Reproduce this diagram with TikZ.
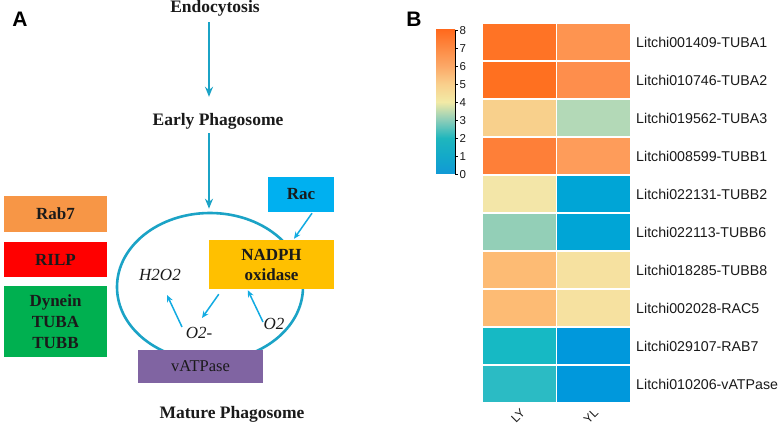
\documentclass[tikz,border=0pt]{standalone}
\usepackage{fontspec}
\setmainfont{Liberation Serif}
\setsansfont{Liberation Sans}
\usetikzlibrary{arrows.meta,shapes.geometric}
\definecolor{flowc}{HTML}{1BA3C6}
\definecolor{smallc}{HTML}{12ABE2}
\definecolor{rabc}{HTML}{F79646}
\definecolor{rilpc}{HTML}{FF0000}
\definecolor{dync}{HTML}{00B050}
\definecolor{racc}{HTML}{00B0F0}
\definecolor{nadc}{HTML}{FFC000}
\definecolor{vatc}{HTML}{8064A2}
\definecolor{txtc}{HTML}{1A1A1A}
% heatmap colours
\definecolor{h1a}{HTML}{FF7325}\definecolor{h1b}{HTML}{FE9450}
\definecolor{h2a}{HTML}{FF7020}\definecolor{h2b}{HTML}{FE8E4C}
\definecolor{h3a}{HTML}{F8D08C}\definecolor{h3b}{HTML}{B3D9B7}
\definecolor{h4a}{HTML}{FE7F38}\definecolor{h4b}{HTML}{FE9C5A}
\definecolor{h5a}{HTML}{F3E6A8}\definecolor{h5b}{HTML}{00A5D6}
\definecolor{h6a}{HTML}{93CFB7}\definecolor{h6b}{HTML}{00A5D6}
\definecolor{h7a}{HTML}{FDBB74}\definecolor{h7b}{HTML}{F6E1A0}
\definecolor{h8a}{HTML}{FDBB74}\definecolor{h8b}{HTML}{F6E1A0}
\definecolor{h9a}{HTML}{16B9C4}\definecolor{h9b}{HTML}{0098DC}
\definecolor{h10a}{HTML}{2BBBC4}\definecolor{h10b}{HTML}{0098DC}
% colour bar
\definecolor{cb0}{HTML}{1199D6}
\definecolor{cb1}{HTML}{13A9C9}
\definecolor{cb2}{HTML}{1FB6BD}
\definecolor{cb3}{HTML}{8CCDB9}
\definecolor{cb4}{HTML}{F2EAA6}
\definecolor{cb5}{HTML}{F9CF8C}
\definecolor{cb6}{HTML}{FCA867}
\definecolor{cb7}{HTML}{FD8A43}
\definecolor{cb8}{HTML}{FF6A1E}
\pgfdeclareverticalshading{cbar}{100bp}{color(0bp)=(cb0); color(25bp)=(cb0); color(31.25bp)=(cb1); color(37.5bp)=(cb2); color(43.75bp)=(cb3); color(50bp)=(cb4); color(56.25bp)=(cb5); color(62.5bp)=(cb6); color(68.75bp)=(cb7); color(75bp)=(cb8); color(100bp)=(cb8)}
\tikzset{
  title/.style={font=\fontsize{17.5}{19}\selectfont\bfseries, text=txtc, inner sep=0pt},
  panel/.style={font=\sffamily\bfseries\fontsize{21}{23}\selectfont, inner sep=0pt},
  box/.style={rectangle, inner sep=0pt, align=center, text=txtc,
    font=\fontsize{17}{19}\selectfont\bfseries},
  species/.style={font=\fontsize{17}{19}\selectfont\itshape, text=txtc, inner sep=0pt},
  flow/.style={draw=flowc, line width=2.6pt, -{Stealth[length=10pt,width=8pt]}},
  small/.style={draw=smallc, line width=1.5pt, -{Stealth[length=7pt,width=6pt]}},
  cell/.style={rectangle, draw=white, line width=1.3pt, minimum width=74.5pt, minimum height=38pt, inner sep=0pt},
  glab/.style={font=\sffamily\fontsize{14.2}{16}\selectfont, anchor=west, inner sep=0pt, text=txtc},
  tick/.style={font=\sffamily\fontsize{11.5}{13}\selectfont, anchor=west, inner sep=0pt, text=txtc},
  collab/.style={font=\sffamily\fontsize{12}{14}\selectfont, rotate=45, inner sep=0pt, text=txtc},
}
\begin{document}
\begin{tikzpicture}[x=1pt,y=-1pt]
\useasboundingbox[fill=white] (0,0) rectangle (782,427);
% ---------- Panel A ----------
\node[panel] (A) at (20,19) {A};
\node[title] (endo) at (215,8) {Endocytosis};
\node[title] (early) at (218,121) {Early Phagosome};
\node[draw=flowc, line width=2.6pt, ellipse, minimum width=186pt, minimum height=148pt, inner sep=0pt] (phago) at (210,287) {};
\draw[flow] ([xshift=-6pt,yshift=-6pt]endo.south) -- ([xshift=-9pt,yshift=16pt]early.north);
\draw[flow] ([xshift=-9pt,yshift=-4pt]early.south) -- ([xshift=-1pt,yshift=3pt]phago.north);
% left legend boxes
\node[box, fill=rabc, minimum width=103pt, minimum height=36pt] (rab) at (55.5,214) {Rab7};
\node[box, fill=rilpc, minimum width=103pt, minimum height=35pt] (rilp) at (55.5,259.5) {RILP};
\node[box, fill=dync, minimum width=103pt, minimum height=71pt, font=\fontsize{17}{21}\selectfont\bfseries] (dyn) at (55.5,321.5) {Dynein\\TUBA\\TUBB};
% phagosome components
\node[box, fill=racc, minimum width=66pt, minimum height=35pt] (rac) at (301,194.5) {Rac};
\node[box, fill=nadc, minimum width=125pt, minimum height=49pt, font=\fontsize{17}{20}\selectfont\bfseries] (nad) at (271.5,264.5) {NADPH\\oxidase};
\node[box, fill=vatc, minimum width=125pt, minimum height=33pt, font=\fontsize{16.5}{19}\selectfont] (vat) at (200.5,366.5) {vATPase};
\node[species] (h2o2) at (160,275) {H2O2};
\node[species] (o2m) at (199,333) {O2-};
\node[species] (o2) at (274,324) {O2};
\node[title] (mature) at (232,414) {Mature Phagosome};
\draw[small] ([xshift=11pt,yshift=-1pt]rac.south) -- ([xshift=22.5pt,yshift=1pt]nad.north);
\draw[small] ([xshift=10pt,yshift=-5pt]nad.south west) -- ([xshift=3pt,yshift=15pt]o2m.center);
\draw[small] ([xshift=-17pt,yshift=6pt]o2m.center) -- ([xshift=7pt,yshift=-20pt]h2o2.center);
\draw[small] ([xshift=-11pt,yshift=2pt]o2.center) -- ([xshift=39pt,yshift=-1pt]nad.south west);
% ---------- Panel B ----------
\node[panel] (B) at (414,19) {B};
% colour bar
\node[rectangle, inner sep=0pt, minimum width=19pt, minimum height=144pt, shading=cbar] (cbar) at (445.5,102) {};
\draw[line width=0.8pt] (cbar.north east) -- (cbar.south east);
\foreach \v in {0,...,8} {
  \draw[line width=0.8pt] ([yshift=\v*18pt]cbar.south east) -- ++(3,0) node[tick, xshift=1pt] {\v};
}
% heatmap
\foreach \r/\lab in {1/Litchi001409-TUBA1, 2/Litchi010746-TUBA2, 3/Litchi019562-TUBA3, 4/Litchi008599-TUBB1, 5/Litchi022131-TUBB2, 6/Litchi022113-TUBB6, 7/Litchi018285-TUBB8, 8/Litchi002028-RAC5, 9/Litchi029107-RAB7, 10/Litchi010206-vATPase} {
  \node[cell, fill=h\r a] (c\r a) at (519.25, 4+38*\r) {};
  \node[cell, fill=h\r b] (c\r b) at (593.75, 4+38*\r) {};
  \node[glab] (l\r) at (636, 4+38*\r) {\lab};
}
\node[collab] (ly) at (518,416) {LY};
\node[collab] (yl) at (591,416) {YL};
\end{tikzpicture}
\end{document}
